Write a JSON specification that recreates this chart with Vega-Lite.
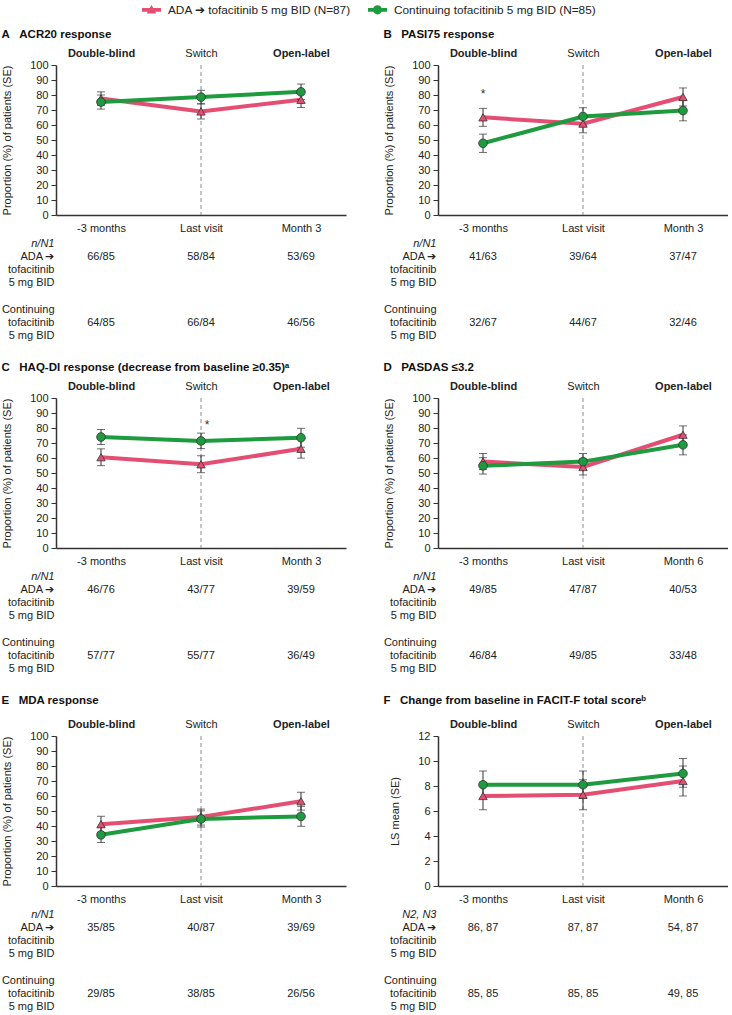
{
"$schema": "https://vega.github.io/schema/vega-lite/v6.json",
"padding": {"left": 1, "top": 0, "right": 0, "bottom": 0},
"config": {"font": "Liberation Sans", "view": {"stroke": null}},
"datasets": {
"pts": [
{"panel":"A","group":"ADA","time":"-3 months","value":77.6,"lo":73.1,"hi":82.1},
{"panel":"A","group":"ADA","time":"Last visit","value":69.0,"lo":64.0,"hi":74.1},
{"panel":"A","group":"ADA","time":"Month 3","value":76.8,"lo":71.7,"hi":81.9},
{"panel":"A","group":"Cont","time":"-3 months","value":75.3,"lo":70.6,"hi":80.0},
{"panel":"A","group":"Cont","time":"Last visit","value":78.6,"lo":74.1,"hi":83.1},
{"panel":"A","group":"Cont","time":"Month 3","value":82.1,"lo":77.0,"hi":87.3},
{"panel":"B","group":"ADA","time":"-3 months","value":65.1,"lo":59.1,"hi":71.1},
{"panel":"B","group":"ADA","time":"Last visit","value":60.9,"lo":54.8,"hi":67.0},
{"panel":"B","group":"ADA","time":"Month 3","value":78.7,"lo":72.7,"hi":84.7},
{"panel":"B","group":"Cont","time":"-3 months","value":47.8,"lo":41.7,"hi":53.9},
{"panel":"B","group":"Cont","time":"Last visit","value":65.7,"lo":59.9,"hi":71.5},
{"panel":"B","group":"Cont","time":"Month 3","value":69.6,"lo":62.8,"hi":76.3},
{"panel":"C","group":"ADA","time":"-3 months","value":60.5,"lo":54.9,"hi":66.1},
{"panel":"C","group":"ADA","time":"Last visit","value":55.8,"lo":50.2,"hi":61.5},
{"panel":"C","group":"ADA","time":"Month 3","value":66.1,"lo":59.9,"hi":72.3},
{"panel":"C","group":"Cont","time":"-3 months","value":74.0,"lo":69.0,"hi":79.0},
{"panel":"C","group":"Cont","time":"Last visit","value":71.4,"lo":66.3,"hi":76.6},
{"panel":"C","group":"Cont","time":"Month 3","value":73.5,"lo":67.2,"hi":79.8},
{"panel":"D","group":"ADA","time":"-3 months","value":57.6,"lo":52.3,"hi":63.0},
{"panel":"D","group":"ADA","time":"Last visit","value":54.0,"lo":48.7,"hi":59.4},
{"panel":"D","group":"ADA","time":"Month 6","value":75.5,"lo":69.6,"hi":81.4},
{"panel":"D","group":"Cont","time":"-3 months","value":54.8,"lo":49.3,"hi":60.2},
{"panel":"D","group":"Cont","time":"Last visit","value":57.6,"lo":52.3,"hi":63.0},
{"panel":"D","group":"Cont","time":"Month 6","value":68.8,"lo":62.1,"hi":75.4},
{"panel":"E","group":"ADA","time":"-3 months","value":41.2,"lo":35.8,"hi":46.5},
{"panel":"E","group":"ADA","time":"Last visit","value":46.0,"lo":40.6,"hi":51.3},
{"panel":"E","group":"ADA","time":"Month 3","value":56.5,"lo":50.6,"hi":62.5},
{"panel":"E","group":"Cont","time":"-3 months","value":34.1,"lo":29.0,"hi":39.3},
{"panel":"E","group":"Cont","time":"Last visit","value":44.7,"lo":39.3,"hi":50.1},
{"panel":"E","group":"Cont","time":"Month 3","value":46.4,"lo":39.8,"hi":53.1},
{"panel":"F","group":"ADA","time":"-3 months","value":7.2,"lo":6.1,"hi":8.3},
{"panel":"F","group":"ADA","time":"Last visit","value":7.3,"lo":6.1,"hi":8.5},
{"panel":"F","group":"ADA","time":"Month 6","value":8.4,"lo":7.2,"hi":9.6},
{"panel":"F","group":"Cont","time":"-3 months","value":8.1,"lo":7.0,"hi":9.2},
{"panel":"F","group":"Cont","time":"Last visit","value":8.1,"lo":7.0,"hi":9.2},
{"panel":"F","group":"Cont","time":"Month 6","value":9.0,"lo":7.9,"hi":10.2}
],
"stars": [
{"panel":"B","time":"-3 months","value":81,"label":"*"},
{"panel":"C","time":"Last visit","value":82,"label":"*"}
],
"tab": [
{"panel":"A","time":"-3 months","line":"a1","text":"66/85"},
{"panel":"A","time":"Last visit","line":"a1","text":"58/84"},
{"panel":"A","time":"Month 3","line":"a1","text":"53/69"},
{"panel":"A","time":"-3 months","line":"c2","text":"64/85"},
{"panel":"A","time":"Last visit","line":"c2","text":"66/84"},
{"panel":"A","time":"Month 3","line":"c2","text":"46/56"},
{"panel":"B","time":"-3 months","line":"a1","text":"41/63"},
{"panel":"B","time":"Last visit","line":"a1","text":"39/64"},
{"panel":"B","time":"Month 3","line":"a1","text":"37/47"},
{"panel":"B","time":"-3 months","line":"c2","text":"32/67"},
{"panel":"B","time":"Last visit","line":"c2","text":"44/67"},
{"panel":"B","time":"Month 3","line":"c2","text":"32/46"},
{"panel":"C","time":"-3 months","line":"a1","text":"46/76"},
{"panel":"C","time":"Last visit","line":"a1","text":"43/77"},
{"panel":"C","time":"Month 3","line":"a1","text":"39/59"},
{"panel":"C","time":"-3 months","line":"c2","text":"57/77"},
{"panel":"C","time":"Last visit","line":"c2","text":"55/77"},
{"panel":"C","time":"Month 3","line":"c2","text":"36/49"},
{"panel":"D","time":"-3 months","line":"a1","text":"49/85"},
{"panel":"D","time":"Last visit","line":"a1","text":"47/87"},
{"panel":"D","time":"Month 6","line":"a1","text":"40/53"},
{"panel":"D","time":"-3 months","line":"c2","text":"46/84"},
{"panel":"D","time":"Last visit","line":"c2","text":"49/85"},
{"panel":"D","time":"Month 6","line":"c2","text":"33/48"},
{"panel":"E","time":"-3 months","line":"a1","text":"35/85"},
{"panel":"E","time":"Last visit","line":"a1","text":"40/87"},
{"panel":"E","time":"Month 3","line":"a1","text":"39/69"},
{"panel":"E","time":"-3 months","line":"c2","text":"29/85"},
{"panel":"E","time":"Last visit","line":"c2","text":"38/85"},
{"panel":"E","time":"Month 3","line":"c2","text":"26/56"},
{"panel":"F","time":"-3 months","line":"a1","text":"86, 87"},
{"panel":"F","time":"Last visit","line":"a1","text":"87, 87"},
{"panel":"F","time":"Month 6","line":"a1","text":"54, 87"},
{"panel":"F","time":"-3 months","line":"c2","text":"85, 85"},
{"panel":"F","time":"Last visit","line":"c2","text":"85, 85"},
{"panel":"F","time":"Month 6","line":"c2","text":"49, 85"}
]
},
"columns": 2,
"spacing": {"row": 18, "column": 37},
"resolve": {"scale": {"color": "shared", "shape": "shared"}, "legend": {"color": "shared", "shape": "shared"}},
"concat": [
{
"title": {"text": "A\u00a0\u00a0\u00a0ACR20 response", "anchor": "start", "frame": "bounds", "offset": 7, "fontSize": 11.5, "fontWeight": "bold", "color": "#111"},
"spacing": 4,
"resolve": {"scale": {"color": "shared", "shape": "shared"}, "legend": {"color": "shared", "shape": "shared"}},
"vconcat": [
{"width": 290, "height": 150, "resolve": {"axis": {"x": "independent"}},
"layer": [
{"data": {"values": [{"time": "Last visit"}]}, "mark": {"type": "rule", "color": "#8c8c8c", "strokeDash": [4, 3], "strokeWidth": 1},
"encoding": {"x": {"field": "time", "type": "ordinal", "scale": {"type": "point", "domain": ["-3 months", "Last visit", "Month 3"], "padding": 0.45},
"axis": {"orient": "top", "domain": false, "ticks": false, "tickSize": 0, "labelPadding": 7, "labelFontSize": 11, "labelColor": "#222", "labelAngle": 0, "title": null, "labelExpr": "datum.value === '-3 months' ? 'Double-blind' : datum.value === 'Last visit' ? 'Switch' : 'Open-label'", "labelFontWeight": {"condition": {"test": "datum.value === 'Last visit'", "value": "normal"}, "value": "bold"}}}}},
{"data": {"name": "pts"}, "transform": [{"filter": "datum.panel === 'A'"}], "mark": {"type": "line", "strokeWidth": 4},
"encoding": {"x": {"field": "time", "type": "ordinal", "scale": {"type": "point", "domain": ["-3 months", "Last visit", "Month 3"], "padding": 0.45},
"axis": {"orient": "bottom", "domain": true, "domainColor": "#333", "domainWidth": 1.5, "ticks": false, "tickSize": 0, "labelPadding": 7, "labelFontSize": 11, "labelColor": "#222", "labelAngle": 0, "title": null}},
"y": {"field": "value", "type": "quantitative", "scale": {"domain": [0, 100], "nice": false}, "axis": {"values": [0, 10, 20, 30, 40, 50, 60, 70, 80, 90, 100], "tickSize": 5, "tickColor": "#333", "domainColor": "#333", "domainWidth": 1.5, "labelPadding": 3, "labelFontSize": 11, "labelColor": "#222", "grid": false, "title": "Proportion (%) of patients (SE)", "titleFontSize": 11, "titleFontWeight": "normal", "titleColor": "#222", "titlePadding": 17}},
"color": {"field": "group", "type": "nominal", "scale": {"domain": ["ADA", "Cont"], "range": ["#e34e72", "#1f9b3f"]}}}},
{"data": {"name": "pts"}, "transform": [{"filter": "datum.panel === 'A'"}], "mark": {"type": "rule", "color": "#333", "strokeWidth": 1},
"encoding": {"x": {"field": "time", "type": "ordinal", "scale": {"type": "point", "domain": ["-3 months", "Last visit", "Month 3"], "padding": 0.45}, "axis": null},
"y": {"field": "lo", "type": "quantitative", "scale": {"domain": [0, 100], "nice": false}, "axis": {"values": [0, 10, 20, 30, 40, 50, 60, 70, 80, 90, 100], "tickSize": 5, "tickColor": "#333", "domainColor": "#333", "domainWidth": 1.5, "labelPadding": 3, "labelFontSize": 11, "labelColor": "#222", "grid": false, "title": "Proportion (%) of patients (SE)", "titleFontSize": 11, "titleFontWeight": "normal", "titleColor": "#222", "titlePadding": 17}}, "y2": {"field": "hi"}}},
{"data": {"name": "pts"}, "transform": [{"filter": "datum.panel === 'A'"}], "mark": {"type": "tick", "color": "#333", "thickness": 1, "size": 8},
"encoding": {"x": {"field": "time", "type": "ordinal", "scale": {"type": "point", "domain": ["-3 months", "Last visit", "Month 3"], "padding": 0.45}, "axis": null},
"y": {"field": "lo", "type": "quantitative", "scale": {"domain": [0, 100], "nice": false}, "axis": {"values": [0, 10, 20, 30, 40, 50, 60, 70, 80, 90, 100], "tickSize": 5, "tickColor": "#333", "domainColor": "#333", "domainWidth": 1.5, "labelPadding": 3, "labelFontSize": 11, "labelColor": "#222", "grid": false, "title": "Proportion (%) of patients (SE)", "titleFontSize": 11, "titleFontWeight": "normal", "titleColor": "#222", "titlePadding": 17}}}},
{"data": {"name": "pts"}, "transform": [{"filter": "datum.panel === 'A'"}], "mark": {"type": "tick", "color": "#333", "thickness": 1, "size": 8},
"encoding": {"x": {"field": "time", "type": "ordinal", "scale": {"type": "point", "domain": ["-3 months", "Last visit", "Month 3"], "padding": 0.45}, "axis": null},
"y": {"field": "hi", "type": "quantitative", "scale": {"domain": [0, 100], "nice": false}, "axis": {"values": [0, 10, 20, 30, 40, 50, 60, 70, 80, 90, 100], "tickSize": 5, "tickColor": "#333", "domainColor": "#333", "domainWidth": 1.5, "labelPadding": 3, "labelFontSize": 11, "labelColor": "#222", "grid": false, "title": "Proportion (%) of patients (SE)", "titleFontSize": 11, "titleFontWeight": "normal", "titleColor": "#222", "titlePadding": 17}}}},
{"data": {"name": "pts"}, "transform": [{"filter": "datum.panel === 'A' && datum.group === 'ADA'"}], "mark": {"type": "point", "shape": "triangle-up", "filled": true, "opacity": 1, "size": 70, "stroke": "#333", "strokeWidth": 0.8},
"encoding": {"x": {"field": "time", "type": "ordinal", "scale": {"type": "point", "domain": ["-3 months", "Last visit", "Month 3"], "padding": 0.45}, "axis": null},
"y": {"field": "value", "type": "quantitative", "scale": {"domain": [0, 100], "nice": false}, "axis": {"values": [0, 10, 20, 30, 40, 50, 60, 70, 80, 90, 100], "tickSize": 5, "tickColor": "#333", "domainColor": "#333", "domainWidth": 1.5, "labelPadding": 3, "labelFontSize": 11, "labelColor": "#222", "grid": false, "title": "Proportion (%) of patients (SE)", "titleFontSize": 11, "titleFontWeight": "normal", "titleColor": "#222", "titlePadding": 17}},
"color": {"field": "group", "type": "nominal", "scale": {"domain": ["ADA", "Cont"], "range": ["#e34e72", "#1f9b3f"]}}}},
{"data": {"name": "pts"}, "transform": [{"filter": "datum.panel === 'A' && datum.group === 'Cont'"}], "mark": {"type": "point", "shape": "circle", "filled": true, "opacity": 1, "size": 75, "stroke": "#333", "strokeWidth": 0.8},
"encoding": {"x": {"field": "time", "type": "ordinal", "scale": {"type": "point", "domain": ["-3 months", "Last visit", "Month 3"], "padding": 0.45}, "axis": null},
"y": {"field": "value", "type": "quantitative", "scale": {"domain": [0, 100], "nice": false}, "axis": {"values": [0, 10, 20, 30, 40, 50, 60, 70, 80, 90, 100], "tickSize": 5, "tickColor": "#333", "domainColor": "#333", "domainWidth": 1.5, "labelPadding": 3, "labelFontSize": 11, "labelColor": "#222", "grid": false, "title": "Proportion (%) of patients (SE)", "titleFontSize": 11, "titleFontWeight": "normal", "titleColor": "#222", "titlePadding": 17}},
"color": {"field": "group", "type": "nominal", "scale": {"domain": ["ADA", "Cont"], "range": ["#e34e72", "#1f9b3f"]}}}},
{"data": {"name": "pts"}, "transform": [{"filter": "datum.panel === 'A'"}], "mark": {"type": "point", "filled": true, "opacity": 0},
"encoding": {"x": {"field": "time", "type": "ordinal", "scale": {"type": "point", "domain": ["-3 months", "Last visit", "Month 3"], "padding": 0.45}, "axis": null},
"y": {"field": "value", "type": "quantitative", "scale": {"domain": [0, 100], "nice": false}, "axis": {"values": [0, 10, 20, 30, 40, 50, 60, 70, 80, 90, 100], "tickSize": 5, "tickColor": "#333", "domainColor": "#333", "domainWidth": 1.5, "labelPadding": 3, "labelFontSize": 11, "labelColor": "#222", "grid": false, "title": "Proportion (%) of patients (SE)", "titleFontSize": 11, "titleFontWeight": "normal", "titleColor": "#222", "titlePadding": 17}},
"color": {"field": "group", "type": "nominal", "scale": {"domain": ["ADA", "Cont"], "range": ["#e34e72", "#1f9b3f"]},
"legend": {"orient": "none", "legendX": 86, "legendY": -65, "direction": "horizontal", "title": null, "labelExpr": "datum.value === 'ADA' ? 'ADA ➔ tofacitinib 5 mg BID (N=87)' : 'Continuing tofacitinib 5 mg BID (N=85)'", "labelFontSize": 11.8, "labelColor": "#222", "labelOffset": 7, "labelLimit": 0, "columnPadding": 17, "symbolSize": 360, "symbolStrokeWidth": 0, "symbolOpacity": 1}},
"shape": {"field": "group", "type": "nominal", "scale": {"domain": ["ADA", "Cont"], "range": ["M-1,-0.2H1V0.2H-1Z M0,-0.52L0.5,0.38L-0.5,0.38Z", "M-1,-0.2H1V0.2H-1Z M0.48,0A0.48,0.48 0 1,1 -0.48,0A0.48,0.48 0 1,1 0.48,0Z"]},
"legend": {"orient": "none", "legendX": 86, "legendY": -65, "direction": "horizontal", "title": null, "labelExpr": "datum.value === 'ADA' ? 'ADA ➔ tofacitinib 5 mg BID (N=87)' : 'Continuing tofacitinib 5 mg BID (N=85)'", "labelFontSize": 11.8, "labelColor": "#222", "labelOffset": 7, "labelLimit": 0, "columnPadding": 17, "symbolSize": 360, "symbolStrokeWidth": 0, "symbolOpacity": 1}}}}
]},
{"width": 290, "height": 106, "data": {"name": "tab"}, "transform": [{"filter": "datum.panel === 'A'"}], "mark": {"type": "text", "fontSize": 11, "color": "#222"},
"encoding": {"x": {"field": "time", "type": "ordinal", "scale": {"type": "point", "domain": ["-3 months", "Last visit", "Month 3"], "padding": 0.45}, "axis": null},
"y": {"field": "line", "type": "ordinal", "scale": {"type": "band", "domain": ["h", "a1", "a2", "a3", "g", "c1", "c2", "c3"], "paddingInner": 0, "paddingOuter": 0},
"axis": {"orient": "left", "domain": false, "ticks": false, "tickSize": 0, "labelPadding": 2, "labelFontSize": 11, "labelColor": "#222", "labelOverlap": false, "title": null, "labelExpr": "datum.value === 'h' ? 'n/N1' : datum.value === 'a1' ? 'ADA ➔' : datum.value === 'a2' || datum.value === 'c2' ? 'tofacitinib' : datum.value === 'a3' || datum.value === 'c3' ? '5 mg BID' : datum.value === 'c1' ? 'Continuing' : ''", "labelFontStyle": {"condition": {"test": "datum.value === 'h'", "value": "italic"}, "value": "normal"}}},
"text": {"field": "text"}}}
]
},
{
"title": {"text": "B\u00a0\u00a0\u00a0PASI75 response", "anchor": "start", "frame": "bounds", "offset": 7, "fontSize": 11.5, "fontWeight": "bold", "color": "#111"},
"spacing": 4,
"resolve": {"scale": {"color": "shared", "shape": "shared"}, "legend": {"color": "shared", "shape": "shared"}},
"vconcat": [
{"width": 290, "height": 150, "resolve": {"axis": {"x": "independent"}},
"layer": [
{"data": {"values": [{"time": "Last visit"}]}, "mark": {"type": "rule", "color": "#8c8c8c", "strokeDash": [4, 3], "strokeWidth": 1},
"encoding": {"x": {"field": "time", "type": "ordinal", "scale": {"type": "point", "domain": ["-3 months", "Last visit", "Month 3"], "padding": 0.45},
"axis": {"orient": "top", "domain": false, "ticks": false, "tickSize": 0, "labelPadding": 7, "labelFontSize": 11, "labelColor": "#222", "labelAngle": 0, "title": null, "labelExpr": "datum.value === '-3 months' ? 'Double-blind' : datum.value === 'Last visit' ? 'Switch' : 'Open-label'", "labelFontWeight": {"condition": {"test": "datum.value === 'Last visit'", "value": "normal"}, "value": "bold"}}}}},
{"data": {"name": "pts"}, "transform": [{"filter": "datum.panel === 'B'"}], "mark": {"type": "line", "strokeWidth": 4},
"encoding": {"x": {"field": "time", "type": "ordinal", "scale": {"type": "point", "domain": ["-3 months", "Last visit", "Month 3"], "padding": 0.45},
"axis": {"orient": "bottom", "domain": true, "domainColor": "#333", "domainWidth": 1.5, "ticks": false, "tickSize": 0, "labelPadding": 7, "labelFontSize": 11, "labelColor": "#222", "labelAngle": 0, "title": null}},
"y": {"field": "value", "type": "quantitative", "scale": {"domain": [0, 100], "nice": false}, "axis": {"values": [0, 10, 20, 30, 40, 50, 60, 70, 80, 90, 100], "tickSize": 5, "tickColor": "#333", "domainColor": "#333", "domainWidth": 1.5, "labelPadding": 3, "labelFontSize": 11, "labelColor": "#222", "grid": false, "title": "Proportion (%) of patients (SE)", "titleFontSize": 11, "titleFontWeight": "normal", "titleColor": "#222", "titlePadding": 17}},
"color": {"field": "group", "type": "nominal", "scale": {"domain": ["ADA", "Cont"], "range": ["#e34e72", "#1f9b3f"]}}}},
{"data": {"name": "pts"}, "transform": [{"filter": "datum.panel === 'B'"}], "mark": {"type": "rule", "color": "#333", "strokeWidth": 1},
"encoding": {"x": {"field": "time", "type": "ordinal", "scale": {"type": "point", "domain": ["-3 months", "Last visit", "Month 3"], "padding": 0.45}, "axis": null},
"y": {"field": "lo", "type": "quantitative", "scale": {"domain": [0, 100], "nice": false}, "axis": {"values": [0, 10, 20, 30, 40, 50, 60, 70, 80, 90, 100], "tickSize": 5, "tickColor": "#333", "domainColor": "#333", "domainWidth": 1.5, "labelPadding": 3, "labelFontSize": 11, "labelColor": "#222", "grid": false, "title": "Proportion (%) of patients (SE)", "titleFontSize": 11, "titleFontWeight": "normal", "titleColor": "#222", "titlePadding": 17}}, "y2": {"field": "hi"}}},
{"data": {"name": "pts"}, "transform": [{"filter": "datum.panel === 'B'"}], "mark": {"type": "tick", "color": "#333", "thickness": 1, "size": 8},
"encoding": {"x": {"field": "time", "type": "ordinal", "scale": {"type": "point", "domain": ["-3 months", "Last visit", "Month 3"], "padding": 0.45}, "axis": null},
"y": {"field": "lo", "type": "quantitative", "scale": {"domain": [0, 100], "nice": false}, "axis": {"values": [0, 10, 20, 30, 40, 50, 60, 70, 80, 90, 100], "tickSize": 5, "tickColor": "#333", "domainColor": "#333", "domainWidth": 1.5, "labelPadding": 3, "labelFontSize": 11, "labelColor": "#222", "grid": false, "title": "Proportion (%) of patients (SE)", "titleFontSize": 11, "titleFontWeight": "normal", "titleColor": "#222", "titlePadding": 17}}}},
{"data": {"name": "pts"}, "transform": [{"filter": "datum.panel === 'B'"}], "mark": {"type": "tick", "color": "#333", "thickness": 1, "size": 8},
"encoding": {"x": {"field": "time", "type": "ordinal", "scale": {"type": "point", "domain": ["-3 months", "Last visit", "Month 3"], "padding": 0.45}, "axis": null},
"y": {"field": "hi", "type": "quantitative", "scale": {"domain": [0, 100], "nice": false}, "axis": {"values": [0, 10, 20, 30, 40, 50, 60, 70, 80, 90, 100], "tickSize": 5, "tickColor": "#333", "domainColor": "#333", "domainWidth": 1.5, "labelPadding": 3, "labelFontSize": 11, "labelColor": "#222", "grid": false, "title": "Proportion (%) of patients (SE)", "titleFontSize": 11, "titleFontWeight": "normal", "titleColor": "#222", "titlePadding": 17}}}},
{"data": {"name": "pts"}, "transform": [{"filter": "datum.panel === 'B' && datum.group === 'ADA'"}], "mark": {"type": "point", "shape": "triangle-up", "filled": true, "opacity": 1, "size": 70, "stroke": "#333", "strokeWidth": 0.8},
"encoding": {"x": {"field": "time", "type": "ordinal", "scale": {"type": "point", "domain": ["-3 months", "Last visit", "Month 3"], "padding": 0.45}, "axis": null},
"y": {"field": "value", "type": "quantitative", "scale": {"domain": [0, 100], "nice": false}, "axis": {"values": [0, 10, 20, 30, 40, 50, 60, 70, 80, 90, 100], "tickSize": 5, "tickColor": "#333", "domainColor": "#333", "domainWidth": 1.5, "labelPadding": 3, "labelFontSize": 11, "labelColor": "#222", "grid": false, "title": "Proportion (%) of patients (SE)", "titleFontSize": 11, "titleFontWeight": "normal", "titleColor": "#222", "titlePadding": 17}},
"color": {"field": "group", "type": "nominal", "scale": {"domain": ["ADA", "Cont"], "range": ["#e34e72", "#1f9b3f"]}}}},
{"data": {"name": "pts"}, "transform": [{"filter": "datum.panel === 'B' && datum.group === 'Cont'"}], "mark": {"type": "point", "shape": "circle", "filled": true, "opacity": 1, "size": 75, "stroke": "#333", "strokeWidth": 0.8},
"encoding": {"x": {"field": "time", "type": "ordinal", "scale": {"type": "point", "domain": ["-3 months", "Last visit", "Month 3"], "padding": 0.45}, "axis": null},
"y": {"field": "value", "type": "quantitative", "scale": {"domain": [0, 100], "nice": false}, "axis": {"values": [0, 10, 20, 30, 40, 50, 60, 70, 80, 90, 100], "tickSize": 5, "tickColor": "#333", "domainColor": "#333", "domainWidth": 1.5, "labelPadding": 3, "labelFontSize": 11, "labelColor": "#222", "grid": false, "title": "Proportion (%) of patients (SE)", "titleFontSize": 11, "titleFontWeight": "normal", "titleColor": "#222", "titlePadding": 17}},
"color": {"field": "group", "type": "nominal", "scale": {"domain": ["ADA", "Cont"], "range": ["#e34e72", "#1f9b3f"]}}}},
{"data": {"name": "stars"}, "transform": [{"filter": "datum.panel === 'B'"}], "mark": {"type": "text", "fontSize": 12, "color": "#333"},
"encoding": {"x": {"field": "time", "type": "ordinal", "scale": {"type": "point", "domain": ["-3 months", "Last visit", "Month 3"], "padding": 0.45}, "axis": null},
"y": {"field": "value", "type": "quantitative", "scale": {"domain": [0, 100], "nice": false}, "axis": {"values": [0, 10, 20, 30, 40, 50, 60, 70, 80, 90, 100], "tickSize": 5, "tickColor": "#333", "domainColor": "#333", "domainWidth": 1.5, "labelPadding": 3, "labelFontSize": 11, "labelColor": "#222", "grid": false, "title": "Proportion (%) of patients (SE)", "titleFontSize": 11, "titleFontWeight": "normal", "titleColor": "#222", "titlePadding": 17}}, "text": {"field": "label"}}}
]},
{"width": 290, "height": 106, "data": {"name": "tab"}, "transform": [{"filter": "datum.panel === 'B'"}], "mark": {"type": "text", "fontSize": 11, "color": "#222"},
"encoding": {"x": {"field": "time", "type": "ordinal", "scale": {"type": "point", "domain": ["-3 months", "Last visit", "Month 3"], "padding": 0.45}, "axis": null},
"y": {"field": "line", "type": "ordinal", "scale": {"type": "band", "domain": ["h", "a1", "a2", "a3", "g", "c1", "c2", "c3"], "paddingInner": 0, "paddingOuter": 0},
"axis": {"orient": "left", "domain": false, "ticks": false, "tickSize": 0, "labelPadding": 2, "labelFontSize": 11, "labelColor": "#222", "labelOverlap": false, "title": null, "labelExpr": "datum.value === 'h' ? 'n/N1' : datum.value === 'a1' ? 'ADA ➔' : datum.value === 'a2' || datum.value === 'c2' ? 'tofacitinib' : datum.value === 'a3' || datum.value === 'c3' ? '5 mg BID' : datum.value === 'c1' ? 'Continuing' : ''", "labelFontStyle": {"condition": {"test": "datum.value === 'h'", "value": "italic"}, "value": "normal"}}},
"text": {"field": "text"}}}
]
},
{
"title": {"text": "C\u00a0\u00a0\u00a0HAQ-DI response (decrease from baseline ≥0.35)ᵃ", "anchor": "start", "frame": "bounds", "offset": 7, "fontSize": 11.5, "fontWeight": "bold", "color": "#111"},
"spacing": 4,
"resolve": {"scale": {"color": "shared", "shape": "shared"}, "legend": {"color": "shared", "shape": "shared"}},
"vconcat": [
{"width": 290, "height": 150, "resolve": {"axis": {"x": "independent"}},
"layer": [
{"data": {"values": [{"time": "Last visit"}]}, "mark": {"type": "rule", "color": "#8c8c8c", "strokeDash": [4, 3], "strokeWidth": 1},
"encoding": {"x": {"field": "time", "type": "ordinal", "scale": {"type": "point", "domain": ["-3 months", "Last visit", "Month 3"], "padding": 0.45},
"axis": {"orient": "top", "domain": false, "ticks": false, "tickSize": 0, "labelPadding": 7, "labelFontSize": 11, "labelColor": "#222", "labelAngle": 0, "title": null, "labelExpr": "datum.value === '-3 months' ? 'Double-blind' : datum.value === 'Last visit' ? 'Switch' : 'Open-label'", "labelFontWeight": {"condition": {"test": "datum.value === 'Last visit'", "value": "normal"}, "value": "bold"}}}}},
{"data": {"name": "pts"}, "transform": [{"filter": "datum.panel === 'C'"}], "mark": {"type": "line", "strokeWidth": 4},
"encoding": {"x": {"field": "time", "type": "ordinal", "scale": {"type": "point", "domain": ["-3 months", "Last visit", "Month 3"], "padding": 0.45},
"axis": {"orient": "bottom", "domain": true, "domainColor": "#333", "domainWidth": 1.5, "ticks": false, "tickSize": 0, "labelPadding": 7, "labelFontSize": 11, "labelColor": "#222", "labelAngle": 0, "title": null}},
"y": {"field": "value", "type": "quantitative", "scale": {"domain": [0, 100], "nice": false}, "axis": {"values": [0, 10, 20, 30, 40, 50, 60, 70, 80, 90, 100], "tickSize": 5, "tickColor": "#333", "domainColor": "#333", "domainWidth": 1.5, "labelPadding": 3, "labelFontSize": 11, "labelColor": "#222", "grid": false, "title": "Proportion (%) of patients (SE)", "titleFontSize": 11, "titleFontWeight": "normal", "titleColor": "#222", "titlePadding": 17}},
"color": {"field": "group", "type": "nominal", "scale": {"domain": ["ADA", "Cont"], "range": ["#e34e72", "#1f9b3f"]}}}},
{"data": {"name": "pts"}, "transform": [{"filter": "datum.panel === 'C'"}], "mark": {"type": "rule", "color": "#333", "strokeWidth": 1},
"encoding": {"x": {"field": "time", "type": "ordinal", "scale": {"type": "point", "domain": ["-3 months", "Last visit", "Month 3"], "padding": 0.45}, "axis": null},
"y": {"field": "lo", "type": "quantitative", "scale": {"domain": [0, 100], "nice": false}, "axis": {"values": [0, 10, 20, 30, 40, 50, 60, 70, 80, 90, 100], "tickSize": 5, "tickColor": "#333", "domainColor": "#333", "domainWidth": 1.5, "labelPadding": 3, "labelFontSize": 11, "labelColor": "#222", "grid": false, "title": "Proportion (%) of patients (SE)", "titleFontSize": 11, "titleFontWeight": "normal", "titleColor": "#222", "titlePadding": 17}}, "y2": {"field": "hi"}}},
{"data": {"name": "pts"}, "transform": [{"filter": "datum.panel === 'C'"}], "mark": {"type": "tick", "color": "#333", "thickness": 1, "size": 8},
"encoding": {"x": {"field": "time", "type": "ordinal", "scale": {"type": "point", "domain": ["-3 months", "Last visit", "Month 3"], "padding": 0.45}, "axis": null},
"y": {"field": "lo", "type": "quantitative", "scale": {"domain": [0, 100], "nice": false}, "axis": {"values": [0, 10, 20, 30, 40, 50, 60, 70, 80, 90, 100], "tickSize": 5, "tickColor": "#333", "domainColor": "#333", "domainWidth": 1.5, "labelPadding": 3, "labelFontSize": 11, "labelColor": "#222", "grid": false, "title": "Proportion (%) of patients (SE)", "titleFontSize": 11, "titleFontWeight": "normal", "titleColor": "#222", "titlePadding": 17}}}},
{"data": {"name": "pts"}, "transform": [{"filter": "datum.panel === 'C'"}], "mark": {"type": "tick", "color": "#333", "thickness": 1, "size": 8},
"encoding": {"x": {"field": "time", "type": "ordinal", "scale": {"type": "point", "domain": ["-3 months", "Last visit", "Month 3"], "padding": 0.45}, "axis": null},
"y": {"field": "hi", "type": "quantitative", "scale": {"domain": [0, 100], "nice": false}, "axis": {"values": [0, 10, 20, 30, 40, 50, 60, 70, 80, 90, 100], "tickSize": 5, "tickColor": "#333", "domainColor": "#333", "domainWidth": 1.5, "labelPadding": 3, "labelFontSize": 11, "labelColor": "#222", "grid": false, "title": "Proportion (%) of patients (SE)", "titleFontSize": 11, "titleFontWeight": "normal", "titleColor": "#222", "titlePadding": 17}}}},
{"data": {"name": "pts"}, "transform": [{"filter": "datum.panel === 'C' && datum.group === 'ADA'"}], "mark": {"type": "point", "shape": "triangle-up", "filled": true, "opacity": 1, "size": 70, "stroke": "#333", "strokeWidth": 0.8},
"encoding": {"x": {"field": "time", "type": "ordinal", "scale": {"type": "point", "domain": ["-3 months", "Last visit", "Month 3"], "padding": 0.45}, "axis": null},
"y": {"field": "value", "type": "quantitative", "scale": {"domain": [0, 100], "nice": false}, "axis": {"values": [0, 10, 20, 30, 40, 50, 60, 70, 80, 90, 100], "tickSize": 5, "tickColor": "#333", "domainColor": "#333", "domainWidth": 1.5, "labelPadding": 3, "labelFontSize": 11, "labelColor": "#222", "grid": false, "title": "Proportion (%) of patients (SE)", "titleFontSize": 11, "titleFontWeight": "normal", "titleColor": "#222", "titlePadding": 17}},
"color": {"field": "group", "type": "nominal", "scale": {"domain": ["ADA", "Cont"], "range": ["#e34e72", "#1f9b3f"]}}}},
{"data": {"name": "pts"}, "transform": [{"filter": "datum.panel === 'C' && datum.group === 'Cont'"}], "mark": {"type": "point", "shape": "circle", "filled": true, "opacity": 1, "size": 75, "stroke": "#333", "strokeWidth": 0.8},
"encoding": {"x": {"field": "time", "type": "ordinal", "scale": {"type": "point", "domain": ["-3 months", "Last visit", "Month 3"], "padding": 0.45}, "axis": null},
"y": {"field": "value", "type": "quantitative", "scale": {"domain": [0, 100], "nice": false}, "axis": {"values": [0, 10, 20, 30, 40, 50, 60, 70, 80, 90, 100], "tickSize": 5, "tickColor": "#333", "domainColor": "#333", "domainWidth": 1.5, "labelPadding": 3, "labelFontSize": 11, "labelColor": "#222", "grid": false, "title": "Proportion (%) of patients (SE)", "titleFontSize": 11, "titleFontWeight": "normal", "titleColor": "#222", "titlePadding": 17}},
"color": {"field": "group", "type": "nominal", "scale": {"domain": ["ADA", "Cont"], "range": ["#e34e72", "#1f9b3f"]}}}},
{"data": {"name": "stars"}, "transform": [{"filter": "datum.panel === 'C'"}], "mark": {"type": "text", "fontSize": 12, "color": "#333", "dx": 6},
"encoding": {"x": {"field": "time", "type": "ordinal", "scale": {"type": "point", "domain": ["-3 months", "Last visit", "Month 3"], "padding": 0.45}, "axis": null},
"y": {"field": "value", "type": "quantitative", "scale": {"domain": [0, 100], "nice": false}, "axis": {"values": [0, 10, 20, 30, 40, 50, 60, 70, 80, 90, 100], "tickSize": 5, "tickColor": "#333", "domainColor": "#333", "domainWidth": 1.5, "labelPadding": 3, "labelFontSize": 11, "labelColor": "#222", "grid": false, "title": "Proportion (%) of patients (SE)", "titleFontSize": 11, "titleFontWeight": "normal", "titleColor": "#222", "titlePadding": 17}}, "text": {"field": "label"}}}
]},
{"width": 290, "height": 106, "data": {"name": "tab"}, "transform": [{"filter": "datum.panel === 'C'"}], "mark": {"type": "text", "fontSize": 11, "color": "#222"},
"encoding": {"x": {"field": "time", "type": "ordinal", "scale": {"type": "point", "domain": ["-3 months", "Last visit", "Month 3"], "padding": 0.45}, "axis": null},
"y": {"field": "line", "type": "ordinal", "scale": {"type": "band", "domain": ["h", "a1", "a2", "a3", "g", "c1", "c2", "c3"], "paddingInner": 0, "paddingOuter": 0},
"axis": {"orient": "left", "domain": false, "ticks": false, "tickSize": 0, "labelPadding": 2, "labelFontSize": 11, "labelColor": "#222", "labelOverlap": false, "title": null, "labelExpr": "datum.value === 'h' ? 'n/N1' : datum.value === 'a1' ? 'ADA ➔' : datum.value === 'a2' || datum.value === 'c2' ? 'tofacitinib' : datum.value === 'a3' || datum.value === 'c3' ? '5 mg BID' : datum.value === 'c1' ? 'Continuing' : ''", "labelFontStyle": {"condition": {"test": "datum.value === 'h'", "value": "italic"}, "value": "normal"}}},
"text": {"field": "text"}}}
]
},
{
"title": {"text": "D\u00a0\u00a0\u00a0PASDAS ≤3.2", "anchor": "start", "frame": "bounds", "offset": 7, "fontSize": 11.5, "fontWeight": "bold", "color": "#111"},
"spacing": 4,
"resolve": {"scale": {"color": "shared", "shape": "shared"}, "legend": {"color": "shared", "shape": "shared"}},
"vconcat": [
{"width": 290, "height": 150, "resolve": {"axis": {"x": "independent"}},
"layer": [
{"data": {"values": [{"time": "Last visit"}]}, "mark": {"type": "rule", "color": "#8c8c8c", "strokeDash": [4, 3], "strokeWidth": 1},
"encoding": {"x": {"field": "time", "type": "ordinal", "scale": {"type": "point", "domain": ["-3 months", "Last visit", "Month 6"], "padding": 0.45},
"axis": {"orient": "top", "domain": false, "ticks": false, "tickSize": 0, "labelPadding": 7, "labelFontSize": 11, "labelColor": "#222", "labelAngle": 0, "title": null, "labelExpr": "datum.value === '-3 months' ? 'Double-blind' : datum.value === 'Last visit' ? 'Switch' : 'Open-label'", "labelFontWeight": {"condition": {"test": "datum.value === 'Last visit'", "value": "normal"}, "value": "bold"}}}}},
{"data": {"name": "pts"}, "transform": [{"filter": "datum.panel === 'D'"}], "mark": {"type": "line", "strokeWidth": 4},
"encoding": {"x": {"field": "time", "type": "ordinal", "scale": {"type": "point", "domain": ["-3 months", "Last visit", "Month 6"], "padding": 0.45},
"axis": {"orient": "bottom", "domain": true, "domainColor": "#333", "domainWidth": 1.5, "ticks": false, "tickSize": 0, "labelPadding": 7, "labelFontSize": 11, "labelColor": "#222", "labelAngle": 0, "title": null}},
"y": {"field": "value", "type": "quantitative", "scale": {"domain": [0, 100], "nice": false}, "axis": {"values": [0, 10, 20, 30, 40, 50, 60, 70, 80, 90, 100], "tickSize": 5, "tickColor": "#333", "domainColor": "#333", "domainWidth": 1.5, "labelPadding": 3, "labelFontSize": 11, "labelColor": "#222", "grid": false, "title": "Proportion (%) of patients (SE)", "titleFontSize": 11, "titleFontWeight": "normal", "titleColor": "#222", "titlePadding": 17}},
"color": {"field": "group", "type": "nominal", "scale": {"domain": ["ADA", "Cont"], "range": ["#e34e72", "#1f9b3f"]}}}},
{"data": {"name": "pts"}, "transform": [{"filter": "datum.panel === 'D'"}], "mark": {"type": "rule", "color": "#333", "strokeWidth": 1},
"encoding": {"x": {"field": "time", "type": "ordinal", "scale": {"type": "point", "domain": ["-3 months", "Last visit", "Month 6"], "padding": 0.45}, "axis": null},
"y": {"field": "lo", "type": "quantitative", "scale": {"domain": [0, 100], "nice": false}, "axis": {"values": [0, 10, 20, 30, 40, 50, 60, 70, 80, 90, 100], "tickSize": 5, "tickColor": "#333", "domainColor": "#333", "domainWidth": 1.5, "labelPadding": 3, "labelFontSize": 11, "labelColor": "#222", "grid": false, "title": "Proportion (%) of patients (SE)", "titleFontSize": 11, "titleFontWeight": "normal", "titleColor": "#222", "titlePadding": 17}}, "y2": {"field": "hi"}}},
{"data": {"name": "pts"}, "transform": [{"filter": "datum.panel === 'D'"}], "mark": {"type": "tick", "color": "#333", "thickness": 1, "size": 8},
"encoding": {"x": {"field": "time", "type": "ordinal", "scale": {"type": "point", "domain": ["-3 months", "Last visit", "Month 6"], "padding": 0.45}, "axis": null},
"y": {"field": "lo", "type": "quantitative", "scale": {"domain": [0, 100], "nice": false}, "axis": {"values": [0, 10, 20, 30, 40, 50, 60, 70, 80, 90, 100], "tickSize": 5, "tickColor": "#333", "domainColor": "#333", "domainWidth": 1.5, "labelPadding": 3, "labelFontSize": 11, "labelColor": "#222", "grid": false, "title": "Proportion (%) of patients (SE)", "titleFontSize": 11, "titleFontWeight": "normal", "titleColor": "#222", "titlePadding": 17}}}},
{"data": {"name": "pts"}, "transform": [{"filter": "datum.panel === 'D'"}], "mark": {"type": "tick", "color": "#333", "thickness": 1, "size": 8},
"encoding": {"x": {"field": "time", "type": "ordinal", "scale": {"type": "point", "domain": ["-3 months", "Last visit", "Month 6"], "padding": 0.45}, "axis": null},
"y": {"field": "hi", "type": "quantitative", "scale": {"domain": [0, 100], "nice": false}, "axis": {"values": [0, 10, 20, 30, 40, 50, 60, 70, 80, 90, 100], "tickSize": 5, "tickColor": "#333", "domainColor": "#333", "domainWidth": 1.5, "labelPadding": 3, "labelFontSize": 11, "labelColor": "#222", "grid": false, "title": "Proportion (%) of patients (SE)", "titleFontSize": 11, "titleFontWeight": "normal", "titleColor": "#222", "titlePadding": 17}}}},
{"data": {"name": "pts"}, "transform": [{"filter": "datum.panel === 'D' && datum.group === 'ADA'"}], "mark": {"type": "point", "shape": "triangle-up", "filled": true, "opacity": 1, "size": 70, "stroke": "#333", "strokeWidth": 0.8},
"encoding": {"x": {"field": "time", "type": "ordinal", "scale": {"type": "point", "domain": ["-3 months", "Last visit", "Month 6"], "padding": 0.45}, "axis": null},
"y": {"field": "value", "type": "quantitative", "scale": {"domain": [0, 100], "nice": false}, "axis": {"values": [0, 10, 20, 30, 40, 50, 60, 70, 80, 90, 100], "tickSize": 5, "tickColor": "#333", "domainColor": "#333", "domainWidth": 1.5, "labelPadding": 3, "labelFontSize": 11, "labelColor": "#222", "grid": false, "title": "Proportion (%) of patients (SE)", "titleFontSize": 11, "titleFontWeight": "normal", "titleColor": "#222", "titlePadding": 17}},
"color": {"field": "group", "type": "nominal", "scale": {"domain": ["ADA", "Cont"], "range": ["#e34e72", "#1f9b3f"]}}}},
{"data": {"name": "pts"}, "transform": [{"filter": "datum.panel === 'D' && datum.group === 'Cont'"}], "mark": {"type": "point", "shape": "circle", "filled": true, "opacity": 1, "size": 75, "stroke": "#333", "strokeWidth": 0.8},
"encoding": {"x": {"field": "time", "type": "ordinal", "scale": {"type": "point", "domain": ["-3 months", "Last visit", "Month 6"], "padding": 0.45}, "axis": null},
"y": {"field": "value", "type": "quantitative", "scale": {"domain": [0, 100], "nice": false}, "axis": {"values": [0, 10, 20, 30, 40, 50, 60, 70, 80, 90, 100], "tickSize": 5, "tickColor": "#333", "domainColor": "#333", "domainWidth": 1.5, "labelPadding": 3, "labelFontSize": 11, "labelColor": "#222", "grid": false, "title": "Proportion (%) of patients (SE)", "titleFontSize": 11, "titleFontWeight": "normal", "titleColor": "#222", "titlePadding": 17}},
"color": {"field": "group", "type": "nominal", "scale": {"domain": ["ADA", "Cont"], "range": ["#e34e72", "#1f9b3f"]}}}}
]},
{"width": 290, "height": 106, "data": {"name": "tab"}, "transform": [{"filter": "datum.panel === 'D'"}], "mark": {"type": "text", "fontSize": 11, "color": "#222"},
"encoding": {"x": {"field": "time", "type": "ordinal", "scale": {"type": "point", "domain": ["-3 months", "Last visit", "Month 6"], "padding": 0.45}, "axis": null},
"y": {"field": "line", "type": "ordinal", "scale": {"type": "band", "domain": ["h", "a1", "a2", "a3", "g", "c1", "c2", "c3"], "paddingInner": 0, "paddingOuter": 0},
"axis": {"orient": "left", "domain": false, "ticks": false, "tickSize": 0, "labelPadding": 2, "labelFontSize": 11, "labelColor": "#222", "labelOverlap": false, "title": null, "labelExpr": "datum.value === 'h' ? 'n/N1' : datum.value === 'a1' ? 'ADA ➔' : datum.value === 'a2' || datum.value === 'c2' ? 'tofacitinib' : datum.value === 'a3' || datum.value === 'c3' ? '5 mg BID' : datum.value === 'c1' ? 'Continuing' : ''", "labelFontStyle": {"condition": {"test": "datum.value === 'h'", "value": "italic"}, "value": "normal"}}},
"text": {"field": "text"}}}
]
},
{
"title": {"text": "E\u00a0\u00a0\u00a0MDA response", "anchor": "start", "frame": "bounds", "offset": 12, "fontSize": 11.5, "fontWeight": "bold", "color": "#111"},
"spacing": 4,
"resolve": {"scale": {"color": "shared", "shape": "shared"}, "legend": {"color": "shared", "shape": "shared"}},
"vconcat": [
{"width": 290, "height": 150, "resolve": {"axis": {"x": "independent"}},
"layer": [
{"data": {"values": [{"time": "Last visit"}]}, "mark": {"type": "rule", "color": "#8c8c8c", "strokeDash": [4, 3], "strokeWidth": 1},
"encoding": {"x": {"field": "time", "type": "ordinal", "scale": {"type": "point", "domain": ["-3 months", "Last visit", "Month 3"], "padding": 0.45},
"axis": {"orient": "top", "domain": false, "ticks": false, "tickSize": 0, "labelPadding": 7, "labelFontSize": 11, "labelColor": "#222", "labelAngle": 0, "title": null, "labelExpr": "datum.value === '-3 months' ? 'Double-blind' : datum.value === 'Last visit' ? 'Switch' : 'Open-label'", "labelFontWeight": {"condition": {"test": "datum.value === 'Last visit'", "value": "normal"}, "value": "bold"}}}}},
{"data": {"name": "pts"}, "transform": [{"filter": "datum.panel === 'E'"}], "mark": {"type": "line", "strokeWidth": 4},
"encoding": {"x": {"field": "time", "type": "ordinal", "scale": {"type": "point", "domain": ["-3 months", "Last visit", "Month 3"], "padding": 0.45},
"axis": {"orient": "bottom", "domain": true, "domainColor": "#333", "domainWidth": 1.5, "ticks": false, "tickSize": 0, "labelPadding": 7, "labelFontSize": 11, "labelColor": "#222", "labelAngle": 0, "title": null}},
"y": {"field": "value", "type": "quantitative", "scale": {"domain": [0, 100], "nice": false}, "axis": {"values": [0, 10, 20, 30, 40, 50, 60, 70, 80, 90, 100], "tickSize": 5, "tickColor": "#333", "domainColor": "#333", "domainWidth": 1.5, "labelPadding": 3, "labelFontSize": 11, "labelColor": "#222", "grid": false, "title": "Proportion (%) of patients (SE)", "titleFontSize": 11, "titleFontWeight": "normal", "titleColor": "#222", "titlePadding": 17}},
"color": {"field": "group", "type": "nominal", "scale": {"domain": ["ADA", "Cont"], "range": ["#e34e72", "#1f9b3f"]}}}},
{"data": {"name": "pts"}, "transform": [{"filter": "datum.panel === 'E'"}], "mark": {"type": "rule", "color": "#333", "strokeWidth": 1},
"encoding": {"x": {"field": "time", "type": "ordinal", "scale": {"type": "point", "domain": ["-3 months", "Last visit", "Month 3"], "padding": 0.45}, "axis": null},
"y": {"field": "lo", "type": "quantitative", "scale": {"domain": [0, 100], "nice": false}, "axis": {"values": [0, 10, 20, 30, 40, 50, 60, 70, 80, 90, 100], "tickSize": 5, "tickColor": "#333", "domainColor": "#333", "domainWidth": 1.5, "labelPadding": 3, "labelFontSize": 11, "labelColor": "#222", "grid": false, "title": "Proportion (%) of patients (SE)", "titleFontSize": 11, "titleFontWeight": "normal", "titleColor": "#222", "titlePadding": 17}}, "y2": {"field": "hi"}}},
{"data": {"name": "pts"}, "transform": [{"filter": "datum.panel === 'E'"}], "mark": {"type": "tick", "color": "#333", "thickness": 1, "size": 8},
"encoding": {"x": {"field": "time", "type": "ordinal", "scale": {"type": "point", "domain": ["-3 months", "Last visit", "Month 3"], "padding": 0.45}, "axis": null},
"y": {"field": "lo", "type": "quantitative", "scale": {"domain": [0, 100], "nice": false}, "axis": {"values": [0, 10, 20, 30, 40, 50, 60, 70, 80, 90, 100], "tickSize": 5, "tickColor": "#333", "domainColor": "#333", "domainWidth": 1.5, "labelPadding": 3, "labelFontSize": 11, "labelColor": "#222", "grid": false, "title": "Proportion (%) of patients (SE)", "titleFontSize": 11, "titleFontWeight": "normal", "titleColor": "#222", "titlePadding": 17}}}},
{"data": {"name": "pts"}, "transform": [{"filter": "datum.panel === 'E'"}], "mark": {"type": "tick", "color": "#333", "thickness": 1, "size": 8},
"encoding": {"x": {"field": "time", "type": "ordinal", "scale": {"type": "point", "domain": ["-3 months", "Last visit", "Month 3"], "padding": 0.45}, "axis": null},
"y": {"field": "hi", "type": "quantitative", "scale": {"domain": [0, 100], "nice": false}, "axis": {"values": [0, 10, 20, 30, 40, 50, 60, 70, 80, 90, 100], "tickSize": 5, "tickColor": "#333", "domainColor": "#333", "domainWidth": 1.5, "labelPadding": 3, "labelFontSize": 11, "labelColor": "#222", "grid": false, "title": "Proportion (%) of patients (SE)", "titleFontSize": 11, "titleFontWeight": "normal", "titleColor": "#222", "titlePadding": 17}}}},
{"data": {"name": "pts"}, "transform": [{"filter": "datum.panel === 'E' && datum.group === 'ADA'"}], "mark": {"type": "point", "shape": "triangle-up", "filled": true, "opacity": 1, "size": 70, "stroke": "#333", "strokeWidth": 0.8},
"encoding": {"x": {"field": "time", "type": "ordinal", "scale": {"type": "point", "domain": ["-3 months", "Last visit", "Month 3"], "padding": 0.45}, "axis": null},
"y": {"field": "value", "type": "quantitative", "scale": {"domain": [0, 100], "nice": false}, "axis": {"values": [0, 10, 20, 30, 40, 50, 60, 70, 80, 90, 100], "tickSize": 5, "tickColor": "#333", "domainColor": "#333", "domainWidth": 1.5, "labelPadding": 3, "labelFontSize": 11, "labelColor": "#222", "grid": false, "title": "Proportion (%) of patients (SE)", "titleFontSize": 11, "titleFontWeight": "normal", "titleColor": "#222", "titlePadding": 17}},
"color": {"field": "group", "type": "nominal", "scale": {"domain": ["ADA", "Cont"], "range": ["#e34e72", "#1f9b3f"]}}}},
{"data": {"name": "pts"}, "transform": [{"filter": "datum.panel === 'E' && datum.group === 'Cont'"}], "mark": {"type": "point", "shape": "circle", "filled": true, "opacity": 1, "size": 75, "stroke": "#333", "strokeWidth": 0.8},
"encoding": {"x": {"field": "time", "type": "ordinal", "scale": {"type": "point", "domain": ["-3 months", "Last visit", "Month 3"], "padding": 0.45}, "axis": null},
"y": {"field": "value", "type": "quantitative", "scale": {"domain": [0, 100], "nice": false}, "axis": {"values": [0, 10, 20, 30, 40, 50, 60, 70, 80, 90, 100], "tickSize": 5, "tickColor": "#333", "domainColor": "#333", "domainWidth": 1.5, "labelPadding": 3, "labelFontSize": 11, "labelColor": "#222", "grid": false, "title": "Proportion (%) of patients (SE)", "titleFontSize": 11, "titleFontWeight": "normal", "titleColor": "#222", "titlePadding": 17}},
"color": {"field": "group", "type": "nominal", "scale": {"domain": ["ADA", "Cont"], "range": ["#e34e72", "#1f9b3f"]}}}}
]},
{"width": 290, "height": 106, "data": {"name": "tab"}, "transform": [{"filter": "datum.panel === 'E'"}], "mark": {"type": "text", "fontSize": 11, "color": "#222"},
"encoding": {"x": {"field": "time", "type": "ordinal", "scale": {"type": "point", "domain": ["-3 months", "Last visit", "Month 3"], "padding": 0.45}, "axis": null},
"y": {"field": "line", "type": "ordinal", "scale": {"type": "band", "domain": ["h", "a1", "a2", "a3", "g", "c1", "c2", "c3"], "paddingInner": 0, "paddingOuter": 0},
"axis": {"orient": "left", "domain": false, "ticks": false, "tickSize": 0, "labelPadding": 2, "labelFontSize": 11, "labelColor": "#222", "labelOverlap": false, "title": null, "labelExpr": "datum.value === 'h' ? 'n/N1' : datum.value === 'a1' ? 'ADA ➔' : datum.value === 'a2' || datum.value === 'c2' ? 'tofacitinib' : datum.value === 'a3' || datum.value === 'c3' ? '5 mg BID' : datum.value === 'c1' ? 'Continuing' : ''", "labelFontStyle": {"condition": {"test": "datum.value === 'h'", "value": "italic"}, "value": "normal"}}},
"text": {"field": "text"}}}
]
},
{
"title": {"text": "F\u00a0\u00a0\u00a0Change from baseline in FACIT-F total scoreᵇ", "anchor": "start", "frame": "bounds", "offset": 12, "fontSize": 11.5, "fontWeight": "bold", "color": "#111"},
"spacing": 4,
"resolve": {"scale": {"color": "shared", "shape": "shared"}, "legend": {"color": "shared", "shape": "shared"}},
"vconcat": [
{"width": 290, "height": 150, "resolve": {"axis": {"x": "independent"}},
"layer": [
{"data": {"values": [{"time": "Last visit"}]}, "mark": {"type": "rule", "color": "#8c8c8c", "strokeDash": [4, 3], "strokeWidth": 1},
"encoding": {"x": {"field": "time", "type": "ordinal", "scale": {"type": "point", "domain": ["-3 months", "Last visit", "Month 6"], "padding": 0.45},
"axis": {"orient": "top", "domain": false, "ticks": false, "tickSize": 0, "labelPadding": 7, "labelFontSize": 11, "labelColor": "#222", "labelAngle": 0, "title": null, "labelExpr": "datum.value === '-3 months' ? 'Double-blind' : datum.value === 'Last visit' ? 'Switch' : 'Open-label'", "labelFontWeight": {"condition": {"test": "datum.value === 'Last visit'", "value": "normal"}, "value": "bold"}}}}},
{"data": {"name": "pts"}, "transform": [{"filter": "datum.panel === 'F'"}], "mark": {"type": "line", "strokeWidth": 4},
"encoding": {"x": {"field": "time", "type": "ordinal", "scale": {"type": "point", "domain": ["-3 months", "Last visit", "Month 6"], "padding": 0.45},
"axis": {"orient": "bottom", "domain": true, "domainColor": "#333", "domainWidth": 1.5, "ticks": false, "tickSize": 0, "labelPadding": 7, "labelFontSize": 11, "labelColor": "#222", "labelAngle": 0, "title": null}},
"y": {"field": "value", "type": "quantitative", "scale": {"domain": [0, 12], "nice": false}, "axis": {"values": [0, 2, 4, 6, 8, 10, 12], "tickSize": 5, "tickColor": "#333", "domainColor": "#333", "domainWidth": 1.5, "labelPadding": 3, "labelFontSize": 11, "labelColor": "#222", "grid": false, "title": "LS mean (SE)", "titleFontSize": 11, "titleFontWeight": "normal", "titleColor": "#222", "titlePadding": 17}},
"color": {"field": "group", "type": "nominal", "scale": {"domain": ["ADA", "Cont"], "range": ["#e34e72", "#1f9b3f"]}}}},
{"data": {"name": "pts"}, "transform": [{"filter": "datum.panel === 'F'"}], "mark": {"type": "rule", "color": "#333", "strokeWidth": 1},
"encoding": {"x": {"field": "time", "type": "ordinal", "scale": {"type": "point", "domain": ["-3 months", "Last visit", "Month 6"], "padding": 0.45}, "axis": null},
"y": {"field": "lo", "type": "quantitative", "scale": {"domain": [0, 12], "nice": false}, "axis": {"values": [0, 2, 4, 6, 8, 10, 12], "tickSize": 5, "tickColor": "#333", "domainColor": "#333", "domainWidth": 1.5, "labelPadding": 3, "labelFontSize": 11, "labelColor": "#222", "grid": false, "title": "LS mean (SE)", "titleFontSize": 11, "titleFontWeight": "normal", "titleColor": "#222", "titlePadding": 17}}, "y2": {"field": "hi"}}},
{"data": {"name": "pts"}, "transform": [{"filter": "datum.panel === 'F'"}], "mark": {"type": "tick", "color": "#333", "thickness": 1, "size": 8},
"encoding": {"x": {"field": "time", "type": "ordinal", "scale": {"type": "point", "domain": ["-3 months", "Last visit", "Month 6"], "padding": 0.45}, "axis": null},
"y": {"field": "lo", "type": "quantitative", "scale": {"domain": [0, 12], "nice": false}, "axis": {"values": [0, 2, 4, 6, 8, 10, 12], "tickSize": 5, "tickColor": "#333", "domainColor": "#333", "domainWidth": 1.5, "labelPadding": 3, "labelFontSize": 11, "labelColor": "#222", "grid": false, "title": "LS mean (SE)", "titleFontSize": 11, "titleFontWeight": "normal", "titleColor": "#222", "titlePadding": 17}}}},
{"data": {"name": "pts"}, "transform": [{"filter": "datum.panel === 'F'"}], "mark": {"type": "tick", "color": "#333", "thickness": 1, "size": 8},
"encoding": {"x": {"field": "time", "type": "ordinal", "scale": {"type": "point", "domain": ["-3 months", "Last visit", "Month 6"], "padding": 0.45}, "axis": null},
"y": {"field": "hi", "type": "quantitative", "scale": {"domain": [0, 12], "nice": false}, "axis": {"values": [0, 2, 4, 6, 8, 10, 12], "tickSize": 5, "tickColor": "#333", "domainColor": "#333", "domainWidth": 1.5, "labelPadding": 3, "labelFontSize": 11, "labelColor": "#222", "grid": false, "title": "LS mean (SE)", "titleFontSize": 11, "titleFontWeight": "normal", "titleColor": "#222", "titlePadding": 17}}}},
{"data": {"name": "pts"}, "transform": [{"filter": "datum.panel === 'F' && datum.group === 'ADA'"}], "mark": {"type": "point", "shape": "triangle-up", "filled": true, "opacity": 1, "size": 70, "stroke": "#333", "strokeWidth": 0.8},
"encoding": {"x": {"field": "time", "type": "ordinal", "scale": {"type": "point", "domain": ["-3 months", "Last visit", "Month 6"], "padding": 0.45}, "axis": null},
"y": {"field": "value", "type": "quantitative", "scale": {"domain": [0, 12], "nice": false}, "axis": {"values": [0, 2, 4, 6, 8, 10, 12], "tickSize": 5, "tickColor": "#333", "domainColor": "#333", "domainWidth": 1.5, "labelPadding": 3, "labelFontSize": 11, "labelColor": "#222", "grid": false, "title": "LS mean (SE)", "titleFontSize": 11, "titleFontWeight": "normal", "titleColor": "#222", "titlePadding": 17}},
"color": {"field": "group", "type": "nominal", "scale": {"domain": ["ADA", "Cont"], "range": ["#e34e72", "#1f9b3f"]}}}},
{"data": {"name": "pts"}, "transform": [{"filter": "datum.panel === 'F' && datum.group === 'Cont'"}], "mark": {"type": "point", "shape": "circle", "filled": true, "opacity": 1, "size": 75, "stroke": "#333", "strokeWidth": 0.8},
"encoding": {"x": {"field": "time", "type": "ordinal", "scale": {"type": "point", "domain": ["-3 months", "Last visit", "Month 6"], "padding": 0.45}, "axis": null},
"y": {"field": "value", "type": "quantitative", "scale": {"domain": [0, 12], "nice": false}, "axis": {"values": [0, 2, 4, 6, 8, 10, 12], "tickSize": 5, "tickColor": "#333", "domainColor": "#333", "domainWidth": 1.5, "labelPadding": 3, "labelFontSize": 11, "labelColor": "#222", "grid": false, "title": "LS mean (SE)", "titleFontSize": 11, "titleFontWeight": "normal", "titleColor": "#222", "titlePadding": 17}},
"color": {"field": "group", "type": "nominal", "scale": {"domain": ["ADA", "Cont"], "range": ["#e34e72", "#1f9b3f"]}}}}
]},
{"width": 290, "height": 106, "data": {"name": "tab"}, "transform": [{"filter": "datum.panel === 'F'"}], "mark": {"type": "text", "fontSize": 11, "color": "#222"},
"encoding": {"x": {"field": "time", "type": "ordinal", "scale": {"type": "point", "domain": ["-3 months", "Last visit", "Month 6"], "padding": 0.45}, "axis": null},
"y": {"field": "line", "type": "ordinal", "scale": {"type": "band", "domain": ["h", "a1", "a2", "a3", "g", "c1", "c2", "c3"], "paddingInner": 0, "paddingOuter": 0},
"axis": {"orient": "left", "domain": false, "ticks": false, "tickSize": 0, "labelPadding": 2, "labelFontSize": 11, "labelColor": "#222", "labelOverlap": false, "title": null, "labelExpr": "datum.value === 'h' ? 'N2, N3' : datum.value === 'a1' ? 'ADA ➔' : datum.value === 'a2' || datum.value === 'c2' ? 'tofacitinib' : datum.value === 'a3' || datum.value === 'c3' ? '5 mg BID' : datum.value === 'c1' ? 'Continuing' : ''", "labelFontStyle": {"condition": {"test": "datum.value === 'h'", "value": "italic"}, "value": "normal"}}},
"text": {"field": "text"}}}
]
}
]
}
